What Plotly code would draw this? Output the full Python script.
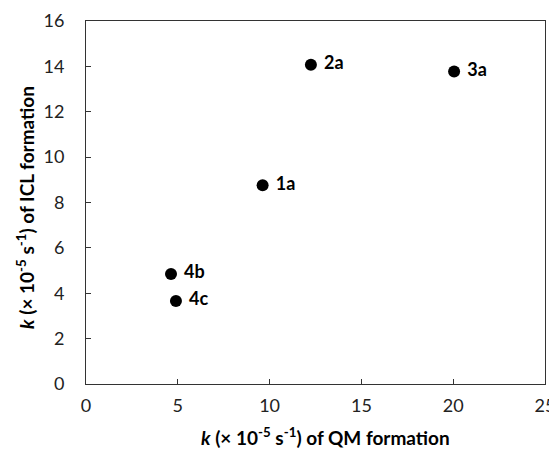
import plotly.graph_objects as go

labels = ["1a", "2a", "3a", "4b", "4c"]
k_qm = [9.62, 12.25, 20.05, 4.63, 4.9]
k_icl = [8.76, 14.07, 13.77, 4.85, 3.66]

x_ticks = [0, 5, 10, 15, 20, 25]
y_ticks = [0, 2, 4, 6, 8, 10, 12, 14, 16]

x_title = "<b><i>k</i> (× 10<sup>-5</sup> s<sup>-1</sup>) of QM formation</b>"
y_title = "<b><i>k</i> (× 10<sup>-5</sup> s<sup>-1</sup>) of ICL formation</b>"

FONT = "Lato, Carlito, Calibri, sans-serif"

fig = go.Figure()
fig.add_trace(go.Scatter(
    x=k_qm, y=k_icl, mode="markers+text",
    text=["\u00a0<b>" + l + "</b>" for l in labels],
    textposition="middle right",
    textfont=dict(family=FONT, size=18, color="black"),
    marker=dict(color="black", size=12),
    showlegend=False, cliponaxis=False,
))

axis_common = dict(
    showgrid=False, zeroline=False, showline=True, linecolor="#333",
    linewidth=1, mirror=True, ticks="inside", ticklen=5, tickcolor="#333",
    tickfont=dict(family=FONT, size=18, color="#222"), automargin=False,
)

# page body has an 8px margin, so the figure is 8px smaller each way
fig.update_layout(
    width=549, height=445,
    margin=dict(l=78, r=12, t=13, b=69),
    plot_bgcolor="white", paper_bgcolor="white",
    xaxis=dict(range=[0, 25], tickvals=x_ticks, ticklabelstandoff=5, **axis_common),
    yaxis=dict(range=[0, 16], tickvals=y_ticks, ticklabelstandoff=17, **axis_common),
    annotations=[
        dict(text=x_title, xref="paper", yref="paper", x=0.5207, y=-0.146,
             xanchor="center", yanchor="middle", showarrow=False,
             font=dict(family=FONT, size=19, color="black")),
        dict(text=y_title, xref="paper", yref="paper", x=-0.1307, y=0.485,
             xanchor="center", yanchor="middle", showarrow=False, textangle=-90,
             font=dict(family=FONT, size=19, color="black")),
    ],
)

fig.write_html("out.html")
